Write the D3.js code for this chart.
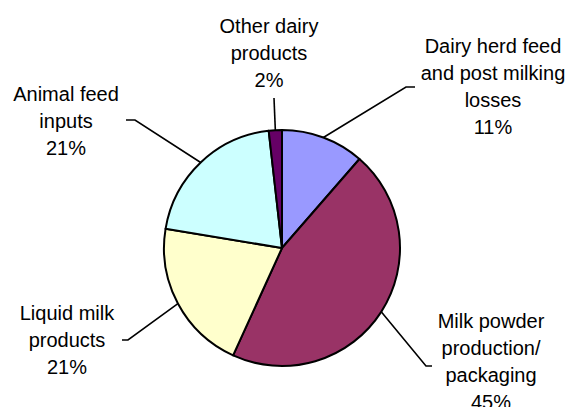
<!DOCTYPE html>
<html>
<head>
<meta charset="utf-8">
<script src="https://cdn.jsdelivr.net/npm/d3@7"></script>
<style>
  html, body { margin: 0; padding: 0; background: #fff; }
  svg { display: block; }
  text { font-family: "Liberation Sans", Arial, sans-serif; font-size: 20px; fill: #000; }
</style>
</head>
<body>
<svg id="chart" width="574" height="407"></svg>
<script>
// ---- data ----
const categories = [
  ["Dairy herd feed", "and post milking", "losses"],
  ["Milk powder", "production/", "packaging"],
  ["Liquid milk", "products"],
  ["Animal feed", "inputs"],
  ["Other dairy", "products"]
];
const values = [11.4, 45.4, 20.8, 20.6, 1.8];
const colors = ["#9999FF", "#993366", "#FFFFCC", "#CCFFFF", "#660066"];

// ---- layout (label placement) ----
const labelLayout = [
  { x: 493, y: 53, lead: [[406, 87], [415, 87]] },
  { x: 491, y: 328, lead: [[426, 366], [432, 366]] },
  { x: 67, y: 320, lead: [[128, 340], [122, 340]] },
  { x: 66, y: 101, lead: [[135, 120], [126, 120]] },
  { x: 269, y: 33, lead: [[274, 98]] }
];
const lineH = 27;

const cx = 282, cy = 248, r = 118;
const svg = d3.select("#chart");
const g = svg.append("g").attr("transform", `translate(${cx},${cy})`);

const pie = d3.pie().sort(null).value(d => d);
const arcs = pie(values);
const arc = d3.arc().innerRadius(0).outerRadius(r);

g.selectAll("path.slice").data(arcs).enter().append("path")
  .attr("class", "slice")
  .attr("d", arc)
  .attr("fill", (d, i) => colors[i])
  .attr("stroke", "#000")
  .attr("stroke-width", 2)
  .attr("stroke-linejoin", "round");

// leader lines
const lineGen = d3.line();
arcs.forEach((d, i) => {
  const mid = (d.startAngle + d.endAngle) / 2;
  const ex = cx + r * Math.sin(mid), ey = cy - r * Math.cos(mid);
  const pts = [[ex, ey]].concat(labelLayout[i].lead);
  svg.append("path")
    .attr("d", lineGen(pts))
    .attr("fill", "none")
    .attr("stroke", "#000")
    .attr("stroke-width", 1.6);
});

// labels
arcs.forEach((d, i) => {
  const L = labelLayout[i];
  const lines = categories[i].concat([Math.round(values[i]) + "%"]);
  const t = svg.append("text").attr("text-anchor", "middle");
  lines.forEach((s, k) => {
    t.append("tspan").attr("x", L.x).attr("y", L.y + k * lineH).text(s);
  });
});
</script>
</body>
</html>
